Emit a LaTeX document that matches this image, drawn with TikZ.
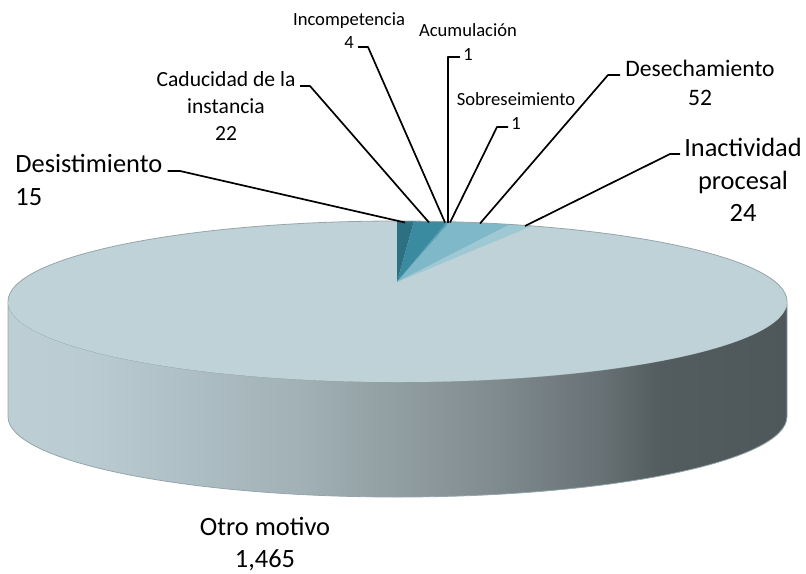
\documentclass[tikz,border=0pt]{standalone}
\usepackage{fontspec}
\setmainfont{Carlito}
\usepackage{tikz}
\usetikzlibrary{calc}
\usepackage{xcolor}
\definecolor{TopFace}{RGB}{191,210,216}
\definecolor{DarkTeal}{RGB}{44,112,130}
\definecolor{MidTeal}{RGB}{58,139,160}
\definecolor{SoftTeal}{RGB}{76,155,176}
\definecolor{PaleTeal}{RGB}{95,168,188}
\definecolor{LiteTeal}{RGB}{127,184,200}
\definecolor{LiteBlue}{RGB}{157,200,212}
\definecolor{RimGray}{RGB}{150,165,170}
\definecolor{SideA}{RGB}{189,207,213}
\definecolor{SideB}{RGB}{186,204,210}
\definecolor{SideC}{RGB}{176,193,199}
\definecolor{SideD}{RGB}{161,177,182}
\definecolor{SideE}{RGB}{144,157,161}
\definecolor{SideF}{RGB}{127,138,142}
\definecolor{SideG}{RGB}{104,114,117}
\definecolor{SideH}{RGB}{83,92,95}
\definecolor{SideI}{RGB}{78,87,90}
\pgfdeclarehorizontalshading{side_shade}{100bp}{%
  color(0bp)=(SideA); color(25bp)=(SideA); color(30.1bp)=(SideB);%
  color(35.4bp)=(SideC); color(43.7bp)=(SideD); color(50.2bp)=(SideE);%
  color(56.6bp)=(SideF); color(63bp)=(SideG); color(66.8bp)=(SideH);%
  color(75bp)=(SideI); color(100bp)=(SideI)}
\tikzset{%
  large_label/.style={%
    inner sep=0pt,%
    align=center,%
    font={\fontsize{13.2}{16.1}\selectfont},%
  },
  big_label/.style={%
    inner sep=0pt,%
    align=center,%
    font={\fontsize{11.8}{14.6}\selectfont},%
  },
  mid_label/.style={%
    inner sep=0pt,%
    align=center,%
    font={\fontsize{10.8}{13.3}\selectfont},%
  },
  small_label/.style={%
    inner sep=0pt,%
    align=center,%
    font={\fontsize{9.3}{11.6}\selectfont},%
  },
  leader/.style={%
    draw=black,%
    line width=0.85pt,%
    line join=round,%
  },
  rim_line/.style={%
    draw=RimGray,%
    line width=0.4pt,%
  },
}
\begin{document}
\begin{tikzpicture}[x=0.5pt, y=-0.5pt]
    \useasboundingbox (0,0) rectangle (806,573);

    % side of the cake
    \path [shading=side_shade, rim_line]
      (8,301.5) -- (8,416.5)
      arc [start angle=180, end angle=0, x radius=389.5, y radius=80.5]
      -- (787,301.5)
      arc [start angle=0, end angle=180, x radius=389.5, y radius=80.5]
      -- cycle;

    % top face
    \fill [TopFace] (397.5,301.5) ellipse [x radius=389.5, y radius=80.5];

    \coordinate (apex) at (397,282);
    \coordinate (rim0) at (397,221);
    \coordinate (rim1) at (414,221.1);
    \coordinate (rim2) at (447,221.65);
    \coordinate (rim3) at (449,221.7);
    \coordinate (rim4) at (450,221.7);
    \coordinate (rim5) at (451,221.75);
    \coordinate (rim6) at (510,224.4);
    \coordinate (rim7) at (532,225.95);

    \fill [DarkTeal] (apex) -- (rim0) -- (rim1) -- cycle;
    \fill [MidTeal] (apex) -- (rim1) -- (rim2) -- cycle;
    \fill [SoftTeal] (apex) -- (rim2) -- (rim3) -- cycle;
    \fill [PaleTeal] (apex) -- (rim3) -- (rim4) -- cycle;
    \fill [PaleTeal!80!LiteTeal] (apex) -- (rim4) -- (rim5) -- cycle;
    \fill [LiteTeal] (apex) -- (rim5) -- (rim6) -- cycle;
    \fill [LiteBlue] (apex) -- (rim6) -- (rim7) -- cycle;

    \draw [rim_line]
      (8,301.5)
      arc [start angle=180, end angle=360, x radius=389.5, y radius=80.5];

    % labels
    \node [large_label, align=left, anchor=west] (Desist) at (15,180)
      {Desistimiento\\15};
    \node [mid_label] (Caducidad) at (226,106)
      {Caducidad de la\\instancia\\22};
    \node [small_label] (Incomp) at (349,31)
      {Incompetencia\\4};
    \node [small_label] (Acum) at (468,42)
      {Acumulación\\1};
    \node [small_label] (Sobre) at (516,111)
      {Sobreseimiento\\1};
    \node [big_label] (Desech) at (700,83)
      {Desechamiento\\52};
    \node [large_label] (Inact) at (743,180)
      {Inactividad\\procesal\\24};
    \node [large_label] (Otro) at (265,544)
      {Otro motivo\\1,465};

    % leader lines
    \coordinate (desist_in) at (405,222.5);
    \coordinate (cad_in) at (429,222.5);
    \coordinate (incomp_in) at (445,222.5);
    \coordinate (acum_in) at (448,222.5);
    \coordinate (sobre_in) at (450,222.5);
    \coordinate (desech_in) at (480,223.5);
    \coordinate (inact_in) at (525,226);

    \draw [leader] (Desist.east |- 0,171) ++(5,0) -- (180,171) -- (desist_in);
    \draw [leader] (300,86) -- (310,86) -- (cad_in);
    \draw [leader] (358,47) -- (368,47) -- (incomp_in);
    \draw [leader] (460,57) -- (448,57) -- (acum_in);
    \draw [leader] (508,127) -- (497,127) -- (sobre_in);
    \draw [leader] (620,75) -- (608,75) -- (desech_in);
    \draw [leader] (680,154) -- (670,154) -- (inact_in);
  \end{tikzpicture}
\end{document}
